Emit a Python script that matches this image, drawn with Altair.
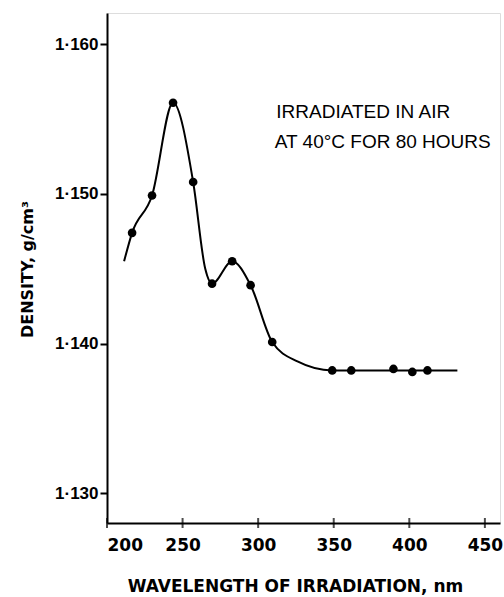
import altair as alt
import pandas as pd

# measured points
pt_x = [216.6, 229.8, 243.7, 257.0, 269.5, 282.8, 295.0, 309.3, 349.0, 361.6, 389.5, 402.0, 412.0]
pt_y = [1.1474, 1.1499, 1.1561, 1.1508, 1.1440, 1.1455, 1.1439, 1.1401, 1.1382, 1.1382, 1.1383, 1.1381, 1.1382]

# smooth curve
curve_x = [211.3, 216.6, 229.8, 243.7, 257.0, 265.0, 269.5, 282.8, 295.0, 309.3, 326.0, 349.0, 431.8]
curve_y = [1.1455, 1.1474, 1.1499, 1.1561, 1.1508, 1.1450, 1.1440, 1.1455, 1.1439, 1.1401, 1.1388, 1.1382, 1.1382]

x_ticks = [200, 250, 300, 350, 400, 450]
y_ticks = [1.13, 1.14, 1.15, 1.16]

note_lines = ["IRRADIATED IN AIR", "AT 40°C FOR 80 HOURS"]
note_x = [312, 311]
note_y = [1.1551, 1.1531]

FONT = "Liberation Sans"
TFONT = "DejaVu Sans"

pts = pd.DataFrame({"x": pt_x, "y": pt_y})
curve = pd.DataFrame({"x": curve_x, "y": curve_y})
notes = pd.DataFrame({"t": note_lines, "x": note_x, "y": note_y})
xt = pd.DataFrame({"x": x_ticks})

xs = alt.Scale(domain=[200, 460], nice=False, zero=False)
ys = alt.Scale(domain=[1.128, 1.1621], nice=False, zero=False)

xaxis = alt.Axis(
    values=x_ticks, title="WAVELENGTH OF IRRADIATION, nm", grid=False,
    tickSize=0, labelPadding=14, labelFontSize=17, labelFontWeight="bold",
    labelFont=TFONT, labelColor="black", domainColor="black", domainWidth=2,
    titleFont=TFONT, titleFontSize=17, titleFontWeight="bold", titleColor="black",
    titleX=188, titleY=63, titleBaseline="middle", titleAnchor="start", titleAlign="center",
)
yaxis = alt.Axis(
    values=y_ticks, title="DENSITY, g/cm³", grid=False,
    tickSize=7, tickWidth=2, tickColor="black", labelPadding=2,
    labelExpr="replace(format(datum.value, '.3f'), '.', '·')",
    labelFontSize=17, labelFontWeight="bold", labelFont=FONT, labelColor="black",
    domainColor="black", domainWidth=2,
    titleFont=TFONT, titleFontSize=16, titleFontWeight="bold", titleColor="black",
    titleAngle=-90, titleX=-80, titleY=256, titleBaseline="middle", titleAlign="center",
)

line = alt.Chart(curve).mark_line(color="black", strokeWidth=2, interpolate="monotone").encode(
    x=alt.X("x:Q", scale=xs, axis=xaxis),
    y=alt.Y("y:Q", scale=ys, axis=yaxis),
)
dots = alt.Chart(pts).mark_point(filled=True, color="black", size=75, opacity=1).encode(
    x=alt.X("x:Q", scale=xs), y=alt.Y("y:Q", scale=ys)
)
ticks = alt.Chart(xt).mark_tick(color="black", thickness=2, size=10, orient="vertical").encode(
    x=alt.X("x:Q", scale=xs), y=alt.value(510)
)
text = alt.Chart(notes).mark_text(align="left", baseline="alphabetic", font=FONT, fontSize=19, color="black").encode(
    x=alt.X("x:Q", scale=xs), y=alt.Y("y:Q", scale=ys), text="t:N"
)

chart = alt.layer(line, dots, ticks, text).properties(
    width=393, height=510,
    autosize=alt.AutoSizeParams(type="none"),
    padding={"left": 107, "top": 13, "right": 4, "bottom": 74},
).configure_view(stroke="black", strokeWidth=2).configure(background="white")

chart.save("out.html", embed_options={"renderer": "svg", "actions": False})
